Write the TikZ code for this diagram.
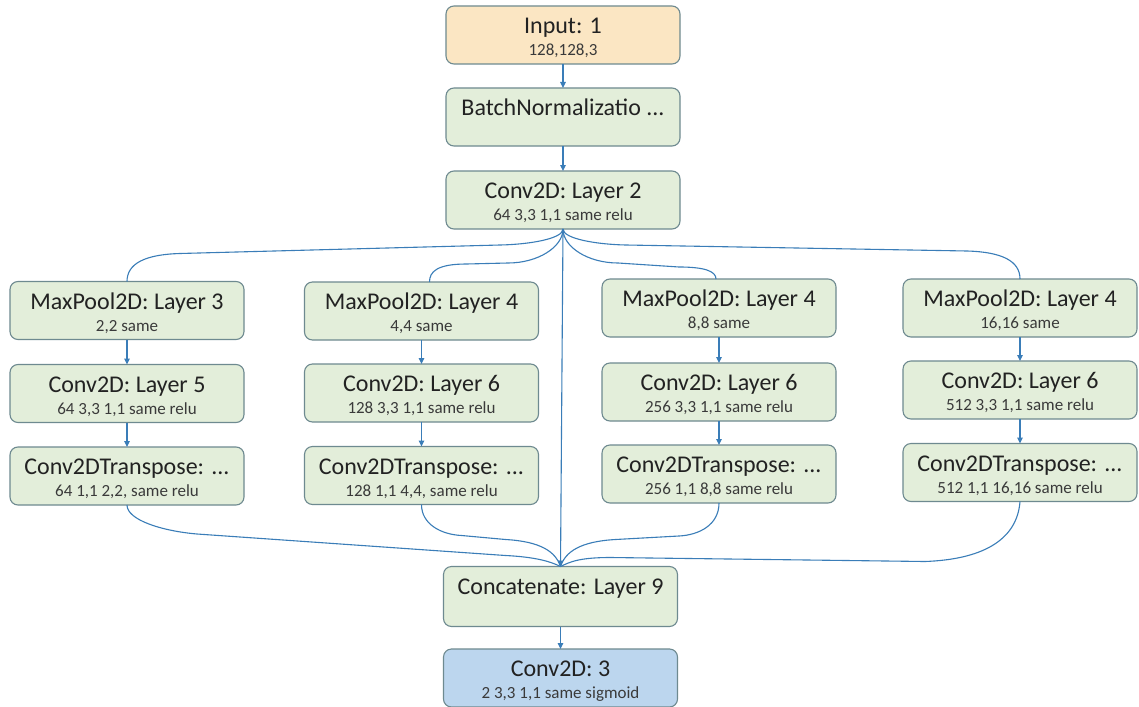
\documentclass[tikz,border=0pt]{standalone}
\usepackage{fontspec}
\setmainfont{Carlito}
\usetikzlibrary{arrows.meta,calc}

\definecolor{boxedge}{HTML}{6E8A90}
\definecolor{greenfill}{HTML}{E3EEDA}
\definecolor{inputfill}{HTML}{FBE6C3}
\definecolor{outfill}{HTML}{BCD6EE}
\definecolor{linkcol}{HTML}{3A7DB8}
\definecolor{ink}{HTML}{222222}
\definecolor{subink}{HTML}{3A3A3A}

% box content: title line and parameter line, fixed vertical placement
\newcommand\layer[3][58pt]{%
  \begin{minipage}[c][#1][t]{234pt}\centering
    {\fontsize{24}{24}\selectfont\color{ink}\rule{0pt}{27.5pt}#2\par}%
    {\fontsize{17}{22}\selectfont\color{subink}\strut#3\par}%
  \end{minipage}}

\tikzset{
  layerbox/.style={draw=boxedge, line width=1.1pt, rounded corners=8pt,
    fill=greenfill, inner sep=0pt, outer sep=0pt},
  link/.style={draw=linkcol, line width=1.1pt},
  arrowlink/.style={link, -{Triangle[length=6pt,width=5.5pt]}},
}

\begin{document}
\begin{tikzpicture}[x=1pt,y=-1pt]
\useasboundingbox (0,0) rectangle (1139,706);
\fill[white] (0,0) rectangle (1139,706);

% main trunk
\node[layerbox, fill=inputfill] (in) at (563,35)  {\layer{Input: 1}{128,128,3}};
\node[layerbox] (bn)  at (563,117) {\layer{BatchNormalizatio ...}{}};
\node[layerbox] (c2)  at (563,200) {\layer{Conv2D: Layer 2}{64 3,3 1,1 same relu}};

% four pooling branches
\node[layerbox] (mp1) at (127,310.5)  {\layer{MaxPool2D: Layer 3}{2,2 same}};
\node[layerbox] (mp2) at (421.5,311)  {\layer{MaxPool2D: Layer 4}{4,4 same}};
\node[layerbox] (mp3) at (719,308)    {\layer{MaxPool2D: Layer 4}{8,8 same}};
\node[layerbox] (mp4) at (1020,308)   {\layer{MaxPool2D: Layer 4}{16,16 same}};

\node[layerbox] (cv1) at (127,393.5)  {\layer{Conv2D: Layer 5}{64 3,3 1,1 same relu}};
\node[layerbox] (cv2) at (421.5,393)  {\layer{Conv2D: Layer 6}{128 3,3 1,1 same relu}};
\node[layerbox] (cv3) at (719,392)    {\layer{Conv2D: Layer 6}{256 3,3 1,1 same relu}};
\node[layerbox] (cv4) at (1020,390)   {\layer{Conv2D: Layer 6}{512 3,3 1,1 same relu}};

\node[layerbox] (tr1) at (127,476)    {\layer{Conv2DTranspose: ...}{64 1,1 2,2, same relu}};
\node[layerbox] (tr2) at (421.5,475.5){\layer{Conv2DTranspose: ...}{128 1,1 4,4, same relu}};
\node[layerbox] (tr3) at (719,474)    {\layer{Conv2DTranspose: ...}{256 1,1 8,8 same relu}};
\node[layerbox] (tr4) at (1020,472.5) {\layer{Conv2DTranspose: ...}{512 1,1 16,16 same relu}};

% merge and output
\node[layerbox] (cat) at (560.5,596.5) {\layer[60pt]{Concatenate: Layer 9}{}};
\node[layerbox, fill=outfill] (out) at (560.5,678) {\layer{Conv2D: 3}{2 3,3 1,1 same sigmoid}};

% straight arrows
\draw[arrowlink] (in) -- (bn);
\draw[arrowlink] (bn) -- (c2);
\foreach \i in {1,2,3,4} {
  \draw[arrowlink] (mp\i) -- (cv\i);
  \draw[arrowlink] (cv\i) -- (tr\i);
}
\draw[arrowlink] (cat) -- (out);

% fan-out from Conv2D: Layer 2
\draw[link] (c2.south) .. controls +(0,10) and +(28,-0.5) .. ($(c2.south)+(-63,16)$)
  -- ($(mp1.north)+(53,-28)$) .. controls +(-35,1) and +(0,-18) .. (mp1.north);
\draw[link] (c2.south) .. controls +(0,10) and +(-28,-0.5) .. ($(c2.south)+(63,16)$)
  -- ($(mp4.north)+(-53,-28)$) .. controls +(35,1) and +(0,-18) .. (mp4.north);
\draw[link] (c2.south) .. controls +(0,18) and +(30,0) .. ($(c2.south)+(-55,34)$)
  -- ($(mp2.north)+(45,-18)$) .. controls +(-30,0) and +(0,-10) .. ($(mp2.north)+(8,0)$);
\draw[link] (c2.south) .. controls +(0,18) and +(-30,0) .. ($(c2.south)+(55,34)$)
  -- ($(mp3.north)+(-40,-12)$) .. controls +(25,0) and +(0,-8) .. ($(mp3.north)+(-3,0)$);

% skip connection straight down
\draw[arrowlink] (c2.south) -- (cat.north);

% fan-in to Concatenate
\draw[link] (tr1.south) .. controls +(0,15) and +(-35,-3) .. ($(tr1.south)+(70,29)$)
  -- ($(cat.north)+(-55,-11)$) .. controls +(30,1.5) and +(-10,-5) .. (cat.north);
\draw[link] (tr2.south) .. controls +(0,20) and +(-20,-1) .. ($(tr2.south)+(40,31)$)
  -- ($(cat.north)+(-55,-27)$) .. controls +(35,2) and +(-5,-15) .. (cat.north);
\draw[link] (tr3.south) .. controls +(0,22) and +(20,-1) .. ($(tr3.south)+(-40,33)$)
  -- ($(cat.north)+(55,-27)$) .. controls +(-35,2) and +(5,-15) .. (cat.north);
\draw[link] (tr4.south) .. controls +(-3,40) and +(55,-2) .. ($(tr4.south)+(-95,60)$)
  -- ($(cat.north)+(50,-9)$) .. controls +(-30,0) and +(10,-5) .. (cat.north);
\end{tikzpicture}
\end{document}
